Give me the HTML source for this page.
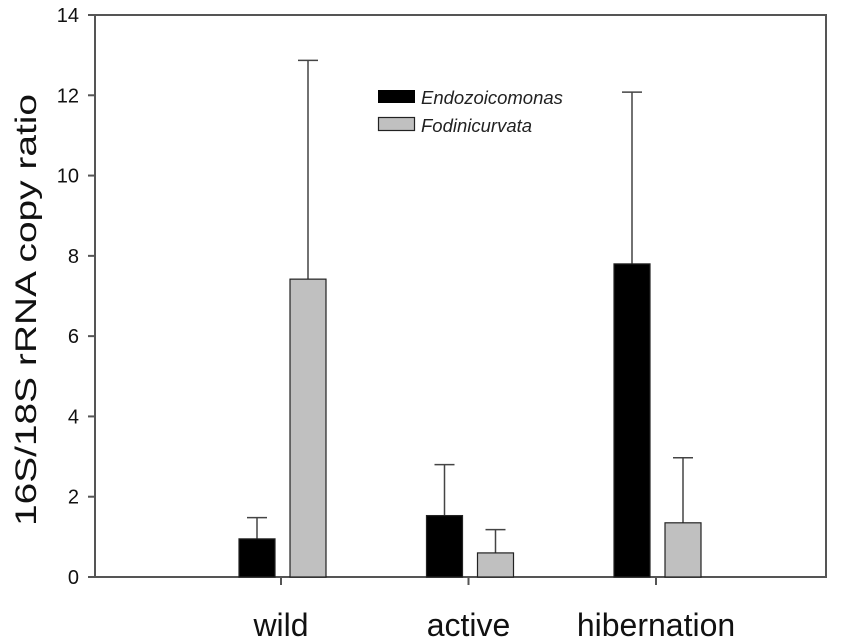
<!DOCTYPE html>
<html><head><meta charset="utf-8"><style>
body{margin:0;background:#fff}
svg{display:block;font-family:"Liberation Sans",Arial,sans-serif}
</style></head><body>
<svg id="chart" width="851" height="641">
<g id="axes"></g><g id="bars"></g>
<text transform="translate(36,310) rotate(-90)" text-anchor="middle" font-size="30" textLength="432" lengthAdjust="spacingAndGlyphs" fill="#111">16S/18S rRNA copy ratio</text>
<g>
<rect x="378" y="90" width="37" height="13" fill="#000"/>
<text x="421" y="104" font-size="18.5" font-style="italic" fill="#222">Endozoicomonas</text>
<rect x="378.5" y="117.5" width="36" height="13" fill="#c0c0c0" stroke="#222" stroke-width="1.2"/>
<text x="421" y="132" font-size="18.5" font-style="italic" fill="#222">Fodinicurvata</text>
</g>
</svg>
<script>
const categories=["wild","active","hibernation"];
const endoValues=[0.95,1.53,7.8];
const endoErrors=[0.53,1.27,4.28];
const fodiValues=[7.42,0.6,1.35];
const fodiErrors=[5.45,0.58,1.62];
const yTicks=[0,2,4,6,8,10,12,14];
const NS="http://www.w3.org/2000/svg";
const L=95,R=826,T=15,B=577,ymax=14;
const y=v=>B-(v/ymax)*(B-T);
const groupCenter=i=>281+i*187.5;
const bw=36;
function mk(tag,attrs,parent){const e=document.createElementNS(NS,tag);for(const k in attrs)e.setAttribute(k,attrs[k]);parent.appendChild(e);return e;}
const axes=document.getElementById('axes'),bars=document.getElementById('bars');
const frame=mk('rect',{x:L,y:T,width:R-L,height:B-T,fill:'none',stroke:'#555','stroke-width':2},axes);


yTicks.forEach(t=>{
  const ln=mk('line',{x1:L-7,x2:L,y1:y(t),y2:y(t),stroke:'#555','stroke-width':2},axes);
  
  
  const tx=mk('text',{x:L-16,y:y(t)+7,'text-anchor':'end','font-size':20,fill:'#111'},axes);
  tx.textContent=t;
  
  
});
categories.forEach((c,i)=>{
  const cx=groupCenter(i);
  const tk=mk('line',{x1:cx,x2:cx,y1:B,y2:B+8,stroke:'#555','stroke-width':2},axes);
  
  
  const tx=mk('text',{x:cx,y:636,'text-anchor':'middle','font-size':32,fill:'#111'},axes);
  tx.textContent=c;
  
  
  const series=[[endoValues[i],endoErrors[i],'#000',cx-42,'endozoicomonas'],[fodiValues[i],fodiErrors[i],'#c0c0c0',cx+9,'fodinicurvata']];
  series.forEach(([v,e,col,x0,nm])=>{
    const xc=x0+bw/2;
    const el=mk('line',{x1:xc,x2:xc,y1:y(v+e),y2:y(v),stroke:'#444','stroke-width':1.5},bars);
    
    
    const cap=mk('line',{x1:xc-10,x2:xc+10,y1:y(v+e),y2:y(v+e),stroke:'#444','stroke-width':1.5},bars);
    
    
    const r=mk('rect',{x:x0,y:y(v),width:bw,height:B-y(v),fill:col,stroke:'#222','stroke-width':1.2},bars);
    
    
  });
});
</script>
</body></html>
